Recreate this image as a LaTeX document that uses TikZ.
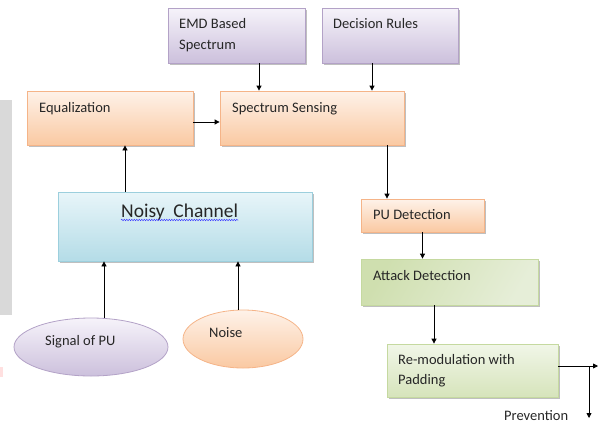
\documentclass[tikz,border=0pt]{standalone}
\usepackage{fontspec}
\setmainfont{Carlito}
\usetikzlibrary{arrows.meta,shadows,shapes.geometric,decorations.pathmorphing}
\definecolor{oratop}{HTML}{FEF2E9}
\definecolor{orabot}{HTML}{FAC9A2}
\definecolor{oraline}{HTML}{F5B488}
\definecolor{purtop}{HTML}{F6F3FA}
\definecolor{purbot}{HTML}{CCC0DC}
\definecolor{purline}{HTML}{B3A2C7}
\definecolor{blutop}{HTML}{E8F5F9}
\definecolor{blubot}{HTML}{B4DCE7}
\definecolor{bluline}{HTML}{9CCFDD}
\definecolor{grndark}{HTML}{CFDFAF}
\definecolor{grnmid}{HTML}{E6EED8}
\definecolor{grnlite}{HTML}{F1F6E8}
\definecolor{grnline}{HTML}{C5D9A0}
\begin{document}
\begin{tikzpicture}[x=1pt, y=-1pt,
	box/.style={rectangle, draw, line width=0.8pt, inner sep=0pt,
		drop shadow={shadow xshift=1.5pt, shadow yshift=-1.5pt, fill=black!50, opacity=0.5}},
	orbox/.style={box, draw=oraline, top color=oratop, bottom color=orabot},
	purbox/.style={box, draw=purline, top color=purtop, bottom color=purbot},
	blubox/.style={box, draw=bluline, top color=blutop, bottom color=blubot},
	grnbox/.style={box, draw=grnline},
	oval/.style={ellipse, draw, line width=0.8pt, inner sep=0pt},
	txt/.style={anchor=base west, inner sep=0pt, text=black!85, font=\fontsize{14.5}{17}\selectfont},
	arr/.style={-{Triangle[length=5pt, width=5pt]}, line width=0.8pt}]
	\useasboundingbox (0,0) rectangle (601,423);
	
	%page edge
	\fill[black!15] (0,100) rectangle (12,315);
	\fill[red!12] (0,367) rectangle (3,377);
	
	%boxes
	\node[purbox, minimum width=137pt, minimum height=55pt] (emd) at (236.5,35.5) {};
	\node[purbox, minimum width=136pt, minimum height=55pt] (dec) at (390,35.5) {};
	\node[orbox, minimum width=166pt, minimum height=54pt] (eq) at (110,118) {};
	\node[orbox, minimum width=184pt, minimum height=54pt] (ss) at (312,118) {};
	\node[blubox, minimum width=254pt, minimum height=69pt] (nc) at (185,226.5) {};
	\node[orbox, minimum width=123pt, minimum height=33pt] (pu) at (422.5,215.5) {};
	\node[grnbox, left color=grndark, right color=grnmid, shading angle=60, minimum width=177pt, minimum height=46pt] (att) at (449.5,282) {};
	\node[grnbox, top color=grnlite, bottom color=grndark!85, minimum width=171pt, minimum height=53pt] (rem) at (472.5,370.5) {};
	\node[oval, draw=purline, top color=purtop, bottom color=purbot, minimum width=154pt, minimum height=58pt] (sig) at (91,347) {};
	\node[oval, draw=oraline, top color=oratop, bottom color=orabot, minimum width=120pt, minimum height=58pt] (noise) at (243,339) {};
	
	%texts
	\node[txt] (emdt) at (179,28) {EMD Based};
	\node[txt] (emdt2) at (179,49) {Spectrum};
	\node[txt] (dect) at (333,28) {Decision Rules};
	\node[txt] (eqt) at (39,112) {Equalization};
	\node[txt] (sst) at (232,112) {Spectrum Sensing};
	\node[txt, font=\fontsize{19.5}{22}\selectfont] (nct) at (121,217) {Noisy\ \ Channel};
	\node[txt] (put) at (373,219) {PU Detection};
	\node[txt] (attt) at (373,280) {Attack Detection};
	\node[txt] (remt) at (398,364) {Re-modulation with};
	\node[txt] (remt2) at (398,384) {Padding};
	\node[txt] (sigt) at (45,345) {Signal of PU};
	\node[txt] (noiset) at (209,337) {Noise};
	\node[txt] (prvt) at (504,420) {Prevention};
	\draw[blue!75, line width=0.5pt, decorate, decoration={snake, amplitude=0.7pt, segment length=2.5pt}]
		([yshift=-3pt]nct.base west) -- ([yshift=-3pt]nct.base east);
	
	%arrows
	\draw[arr] ([xshift=22.5pt]emd.south) -- ([xshift=22.5pt]emd.south |- ss.north);
	\draw[arr] ([xshift=-18pt]dec.south) -- ([xshift=-18pt]dec.south |- ss.north);
	\draw[arr] ([yshift=-4pt]eq.east) -- ([yshift=-4pt]eq.east -| ss.west);
	\draw[arr] ([xshift=75pt]ss.south) -- ([xshift=75pt]ss.south |- pu.north);
	\draw[arr] ([xshift=-60pt]nc.north) -- ([xshift=-60pt]nc.north |- eq.south);
	\draw[arr] ([xshift=13pt]sig.north) -- ([xshift=13pt]sig.north |- nc.south);
	\draw[arr] ([xshift=-5pt]noise.north) -- ([xshift=-5pt]noise.north |- nc.south);
	\draw[arr] (pu.south) -- (pu.south |- att.north);
	\draw[arr] ([xshift=-15.5pt]att.south) -- ([xshift=-15.5pt]att.south |- rem.north);
	\coordinate (outtip) at (598,366);
	\coordinate (split) at (589,366);
	\coordinate (prvtip) at (589,418);
	\draw[arr] (rem.east |- outtip) -- (outtip);
	\draw[arr] (split) -- (prvtip);
\end{tikzpicture}
\end{document}
